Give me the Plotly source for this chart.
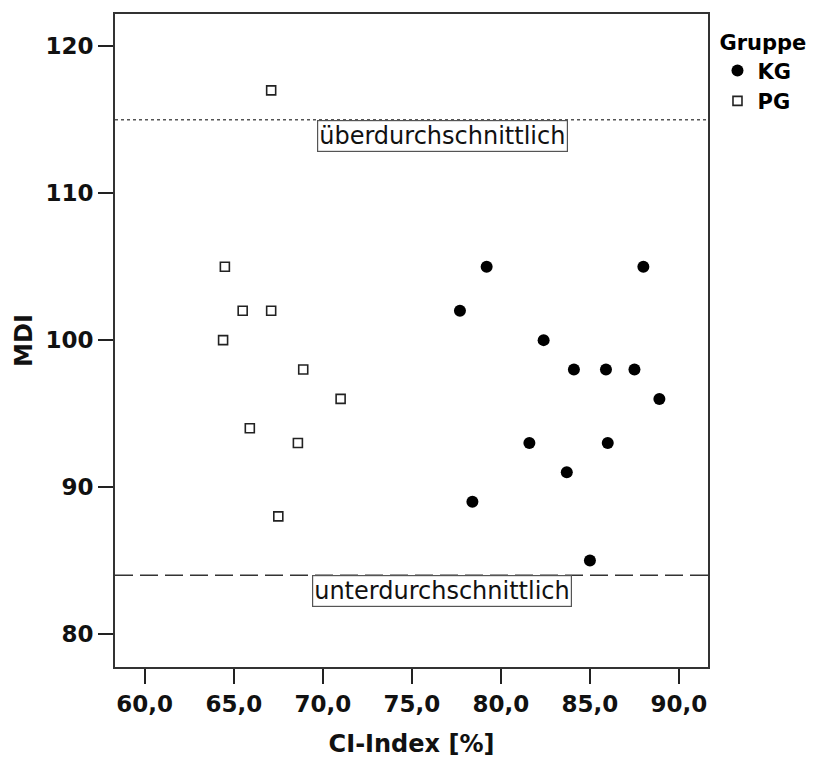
import plotly.graph_objects as go

# CI-Index [%] and MDI per child, by group
kg_ci = [79.2, 88.0, 77.7, 82.4, 84.1, 85.9, 87.5, 88.9, 81.6, 86.0, 83.7, 78.4, 85.0]
kg_mdi = [105, 105, 102, 100, 98, 98, 98, 96, 93, 93, 91, 89, 85]

pg_ci = [67.1, 64.5, 65.5, 67.1, 64.4, 68.9, 71.0, 65.9, 68.6, 67.5]
pg_mdi = [117, 105, 102, 102, 100, 98, 96, 94, 93, 88]

# reference bands of the MDI
upper_limit = 115
lower_limit = 84
upper_label = "überdurchschnittlich"
lower_label = "unterdurchschnittlich"
label_x = 76.7

x_ticks = [60, 65, 70, 75, 80, 85, 90]
y_ticks = [80, 90, 100, 110, 120]
x_range = [58.33, 91.63]
y_range = [77.75, 122.2]

FONT = "DejaVu Sans"

fig = go.Figure()

fig.add_trace(go.Scatter(
    x=kg_ci, y=kg_mdi, mode="markers", name="KG",
    marker=dict(symbol="circle", size=12, color="black",
                line=dict(width=0)),
))
fig.add_trace(go.Scatter(
    x=pg_ci, y=pg_mdi, mode="markers", name="PG",
    marker=dict(symbol="square", size=9, color="white",
                line=dict(width=1.6, color="#222")),
))

# horizontal reference lines across the plot area
fig.add_shape(type="line", xref="paper", x0=0, x1=1, yref="y",
              y0=upper_limit, y1=upper_limit,
              line=dict(color="#555", width=1.4, dash="3px,3px"))
fig.add_shape(type="line", xref="paper", x0=0, x1=1, yref="y",
              y0=lower_limit, y1=lower_limit,
              line=dict(color="#333", width=1.5, dash="18px,7px"))

for yv, txt in [(upper_limit, upper_label), (lower_limit, lower_label)]:
    fig.add_annotation(
        x=label_x, y=yv, xref="x", yref="y", text=txt, showarrow=False,
        xanchor="center", yanchor="top",
        font=dict(family=FONT, size=24, color="#111"),
        bgcolor="white", bordercolor="#555", borderwidth=1.2, borderpad=1,
    )

fig.update_layout(
    width=813, height=758,
    margin=dict(l=115, r=105, t=14, b=91, autoexpand=False),
    paper_bgcolor="white", plot_bgcolor="white",
    separators=",.",
    showlegend=True,
    legend=dict(
        title=dict(text="<b>Gruppe</b>", font=dict(family=FONT, size=21, color="black")),
        font=dict(family=FONT, size=21, color="black", weight="bold"),
        x=1.016, xanchor="left", y=0.986, yanchor="top",
        itemwidth=30, tracegroupgap=0, bgcolor="rgba(0,0,0,0)",
    ),
    font=dict(family=FONT, color="black"),
)

fig.update_xaxes(
    range=x_range, tickvals=x_ticks, tickformat=".1f",
    showgrid=False, zeroline=False, automargin=False,
    showline=True, mirror=True, linecolor="#333", linewidth=2,
    ticks="outside", ticklen=15, tickwidth=1.5, tickcolor="#222",
    tickfont=dict(family=FONT, size=23, color="#111", weight="bold"),
    title=dict(text="<b>CI-Index [%]</b>", font=dict(family=FONT, size=24, color="#111"),
               standoff=20),
)
fig.update_yaxes(
    range=y_range, tickvals=y_ticks,
    showgrid=False, zeroline=False, automargin=False,
    showline=True, mirror=True, linecolor="#333", linewidth=2,
    ticks="outside", ticklen=15, tickwidth=1.5, tickcolor="#222",
    tickfont=dict(family=FONT, size=23, color="#111", weight="bold"),
    title=dict(text="<b>MDI</b>", font=dict(family=FONT, size=24, color="#111"),
               standoff=6),
)

fig.write_html("out.html")
